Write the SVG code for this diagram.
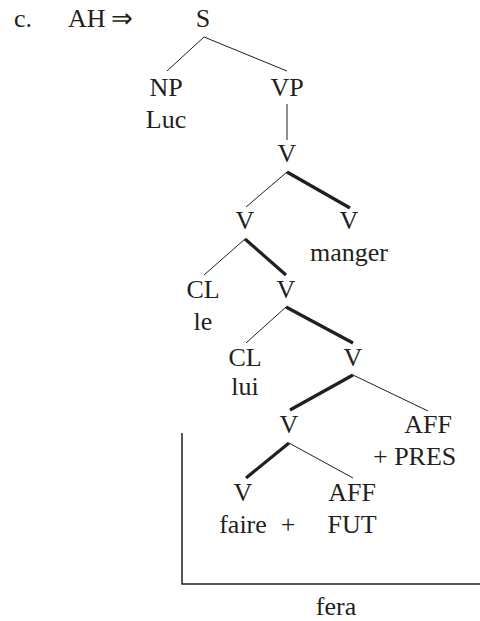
<svg xmlns="http://www.w3.org/2000/svg" width="480" height="621" viewBox="0 0 480 621">
<style>
text{font-family:"Liberation Serif","Times New Roman",serif;font-size:26px;fill:#231f20;text-anchor:middle}
.l{text-anchor:start}
.thin{stroke:#231f20;stroke-width:1;fill:none}
.thick{stroke:#231f20;stroke-width:3.2;fill:none}
</style>
<rect width="480" height="621" fill="#fff"/>
<g id="label"><text class="l" x="14" y="27">c.</text><text class="l" x="68" y="27">AH</text><text class="l" x="111" y="27" font-family="DejaVu Serif" font-size="28">⇒</text></g>
<g id="connectors">
<line class="thin" x1="204" y1="37" x2="167" y2="71"/>
<line class="thin" x1="204" y1="37" x2="287" y2="71"/>
<line class="thin" x1="287" y1="104" x2="287" y2="140"/>
<line class="thin" x1="287" y1="172" x2="246" y2="207"/>
<line class="thick" x1="287" y1="172" x2="350" y2="208"/>
<line class="thin" x1="245" y1="239" x2="204" y2="275"/>
<line class="thick" x1="245" y1="239" x2="286" y2="275"/>
<line class="thin" x1="286" y1="307" x2="246" y2="343"/>
<line class="thick" x1="286" y1="307" x2="353" y2="343"/>
<line class="thick" x1="353" y1="375" x2="290" y2="410"/>
<line class="thin" x1="353" y1="375" x2="428" y2="411"/>
<line class="thick" x1="289" y1="443" x2="246" y2="478"/>
<line class="thin" x1="289" y1="443" x2="353" y2="478"/>
<polyline points="182,433 182,584 480,584" fill="none" stroke="#231f20" stroke-width="1.5"/>
</g>
<g id="S"><text x="203" y="27">S</text></g>
<g id="NP"><text x="166" y="96">NP</text><text x="166" y="128">Luc</text></g>
<g id="VP"><text x="287" y="96">VP</text></g>
<g id="V1"><text x="287" y="162">V</text></g>
<g id="V2"><text x="245" y="229">V</text></g>
<g id="V3"><text x="349" y="229">V</text><text x="349" y="261">manger</text></g>
<g id="CL1"><text x="203" y="298">CL</text><text x="203" y="330">le</text></g>
<g id="V4"><text x="286" y="298">V</text></g>
<g id="CL2"><text x="245" y="366">CL</text><text x="245" y="395">lui</text></g>
<g id="V5"><text x="353" y="366">V</text></g>
<g id="V6"><text x="289" y="433">V</text></g>
<g id="AFF1"><text x="428" y="433">AFF</text><text class="l" x="373" y="465">+ PRES</text></g>
<g id="V7"><text x="243" y="501">V</text><text x="243" y="533">faire</text><text x="288" y="533">+</text></g>
<g id="AFF2"><text x="352" y="501">AFF</text><text x="352" y="533">FUT</text></g>
<g id="fera"><text x="336" y="615">fera</text></g>
</svg>
